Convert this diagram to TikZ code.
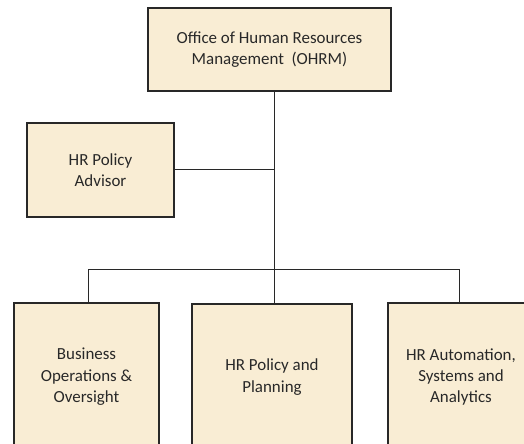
\documentclass[tikz,border=0pt]{standalone}
\usepackage{fontspec}
\setmainfont{Carlito}
\definecolor{parch}{RGB}{249,237,212}
\definecolor{inkc}{RGB}{40,40,40}
\begin{document}
\begin{tikzpicture}[x=1bp,y=-1bp,
  box/.style={draw=inkc, line width=1.3bp, fill=parch, align=center, text=inkc,
    font=\fontsize{17}{21.5}\selectfont, inner sep=0pt},
  link/.style={line width=1bp, draw=inkc}]
\useasboundingbox (0,0) rectangle (524,444);
\clip (0,0) rectangle (524,444);
\node[box, minimum width=243bp, minimum height=83bp] (ohrm) at (269.5,49.5)
  {Office of Human Resources\\Management\ \ (OHRM)};
\node[box, minimum width=147bp, minimum height=94bp] (adv) at (100.5,170)
  {HR Policy\\Advisor};
\node[box, minimum width=145bp, minimum height=148bp] (left) at (86.5,377)
  {Business\\Operations \&\\Oversight};
\node[box, minimum width=160bp, minimum height=146bp] (mid) at (272,377)
  {HR Policy and\\Planning};
\node[box, minimum width=146bp, minimum height=148bp] (right) at (461,377)
  {HR Automation,\\Systems and\\Analytics};
\coordinate (bar) at (274,269);
\coordinate (barL) at (88,269);
\coordinate (barR) at (459,269);
\draw[link] (ohrm.south -| bar) -- (mid.north -| bar);
\draw[link] (adv.east) -- (adv.east -| bar);
\draw[link] (left.north -| barL) |- (barR) -- (right.north -| barR);
\end{tikzpicture}
\end{document}
